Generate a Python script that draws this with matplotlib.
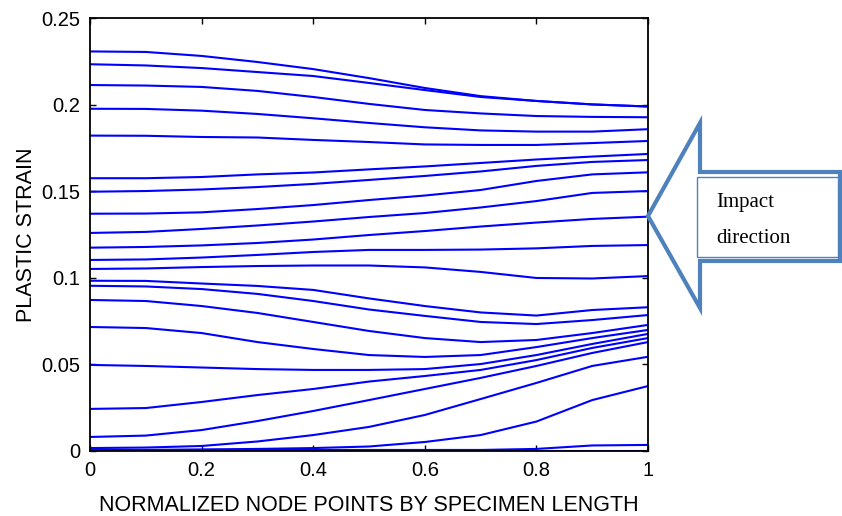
import matplotlib
matplotlib.use("Agg")
import matplotlib.pyplot as plt
from matplotlib.patches import Polygon, Rectangle

# node positions (normalized by specimen length)
x_nodes = [0.0, 0.1, 0.2, 0.3, 0.4, 0.5, 0.6, 0.7, 0.8, 0.9, 1.0]

# plastic strain curves, top to bottom (as they start at x = 0)
strain_01 = [0.2307, 0.2304, 0.2281, 0.2246, 0.2205, 0.2153, 0.2096, 0.2049, 0.2021, 0.2001, 0.1989]
strain_02 = [0.2233, 0.2226, 0.2211, 0.2188, 0.2165, 0.2125, 0.2084, 0.2044, 0.2021, 0.2001, 0.1989]
strain_03 = [0.2113, 0.2110, 0.2102, 0.2079, 0.2044, 0.2004, 0.1969, 0.1949, 0.1934, 0.1929, 0.1927]
strain_04 = [0.1976, 0.1975, 0.1965, 0.1946, 0.1921, 0.1894, 0.1869, 0.1851, 0.1844, 0.1844, 0.1858]
strain_05 = [0.1821, 0.1820, 0.1813, 0.1810, 0.1796, 0.1784, 0.1770, 0.1767, 0.1767, 0.1778, 0.1790]
strain_06 = [0.1575, 0.1575, 0.1582, 0.1597, 0.1608, 0.1626, 0.1643, 0.1663, 0.1683, 0.1700, 0.1715]
strain_07 = [0.1497, 0.1501, 0.1510, 0.1524, 0.1542, 0.1565, 0.1588, 0.1614, 0.1646, 0.1669, 0.1680]
strain_08 = [0.1370, 0.1371, 0.1378, 0.1397, 0.1420, 0.1449, 0.1475, 0.1507, 0.1559, 0.1597, 0.1609]
strain_09 = [0.1259, 0.1265, 0.1282, 0.1302, 0.1325, 0.1351, 0.1374, 0.1406, 0.1443, 0.1490, 0.1501]
strain_10 = [0.1174, 0.1178, 0.1187, 0.1201, 0.1221, 0.1247, 0.1270, 0.1296, 0.1319, 0.1340, 0.1353]
strain_11 = [0.1103, 0.1106, 0.1117, 0.1132, 0.1149, 0.1161, 0.1161, 0.1163, 0.1170, 0.1184, 0.1189]
strain_12 = [0.1051, 0.1054, 0.1062, 0.1068, 0.1071, 0.1071, 0.1060, 0.1034, 0.0999, 0.0996, 0.1010]
strain_13 = [0.0983, 0.0982, 0.0967, 0.0953, 0.0930, 0.0881, 0.0837, 0.0800, 0.0782, 0.0814, 0.0830]
strain_14 = [0.0954, 0.0950, 0.0935, 0.0907, 0.0866, 0.0817, 0.0780, 0.0745, 0.0733, 0.0756, 0.0785]
strain_15 = [0.0872, 0.0866, 0.0837, 0.0797, 0.0745, 0.0693, 0.0652, 0.0629, 0.0641, 0.0681, 0.0728]
strain_16 = [0.0716, 0.0710, 0.0681, 0.0629, 0.0589, 0.0554, 0.0543, 0.0554, 0.0600, 0.0652, 0.0699]
strain_17 = [0.0497, 0.0491, 0.0482, 0.0473, 0.0468, 0.0468, 0.0473, 0.0502, 0.0554, 0.0618, 0.0676]
strain_18 = [0.0243, 0.0248, 0.0283, 0.0323, 0.0358, 0.0401, 0.0433, 0.0468, 0.0525, 0.0595, 0.0652]
strain_19 = [0.0081, 0.0089, 0.0121, 0.0173, 0.0231, 0.0294, 0.0358, 0.0422, 0.0491, 0.0566, 0.0629]
strain_20 = [0.0017, 0.0020, 0.0029, 0.0055, 0.0092, 0.0139, 0.0208, 0.0300, 0.0393, 0.0491, 0.0544]
strain_21 = [0.0006, 0.0006, 0.0009, 0.0012, 0.0017, 0.0026, 0.0052, 0.0092, 0.0170, 0.0294, 0.0375]
strain_22 = [0.0006, 0.0006, 0.0006, 0.0006, 0.0006, 0.0006, 0.0006, 0.0006, 0.0012, 0.0032, 0.0035]
strain_23 = [0.0, 0.0, 0.0, 0.0, 0.0, 0.0, 0.0, 0.0, 0.0, 0.0, 0.0]

curves = [strain_01, strain_02, strain_03, strain_04, strain_05, strain_06,
          strain_07, strain_08, strain_09, strain_10, strain_11, strain_12,
          strain_13, strain_14, strain_15, strain_16, strain_17, strain_18,
          strain_19, strain_20, strain_21, strain_22, strain_23]

x_ticks = [0, 0.2, 0.4, 0.6, 0.8, 1]
x_ticklabels = ["0", "0.2", "0.4", "0.6", "0.8", "1"]
y_ticks = [0, 0.05, 0.1, 0.15, 0.2, 0.25]
y_ticklabels = ["0", "0.05", "0.1", "0.15", "0.2", "0.25"]

W, H = 842, 516
plt.rcParams['font.family'] = ['Liberation Sans', 'DejaVu Sans']

fig = plt.figure(figsize=(W / 100, H / 100), dpi=100)
ax = fig.add_axes([90 / W, 1 - 451 / H, (648 - 90) / W, (451 - 18) / H])

for c in curves:
    ax.plot(x_nodes, c, color='#0000ff', lw=1.5)

ax.set_xlim(0, 1)
ax.set_ylim(0, 0.25)
ax.set_xticks(x_ticks)
ax.set_xticklabels(x_ticklabels)
ax.set_yticks(y_ticks)
ax.set_yticklabels(y_ticklabels)
ax.tick_params(direction='in', length=4, width=1, top=True, right=True,
               labelsize=14.5, pad=7)
for s in ax.spines.values():
    s.set_linewidth(1.3)

ax.set_ylabel("PLASTIC STRAIN", fontsize=15.5, labelpad=3)
ax.set_xlabel("NORMALIZED NODE POINTS BY SPECIMEN LENGTH", fontsize=15.5, labelpad=11)


# impact arrow drawn in figure pixels
def px(x, y):
    return (x / W, 1 - y / H)


arrow_pts = [px(648, 216), px(700, 123), px(700, 172), px(840, 172),
             px(840, 261), px(700, 261), px(700, 308)]
fig.add_artist(Polygon(arrow_pts, closed=True, facecolor='white',
                       edgecolor='#4f81bd', lw=3.0, transform=fig.transFigure))
x0, y0 = px(697, 257)
x1, y1 = px(838, 177)
fig.add_artist(Rectangle((x0, y0), x1 - x0, y1 - y0, facecolor='white',
                         edgecolor='#4f81bd', lw=1.0, transform=fig.transFigure))
fig.text(*px(716, 203), "Impact", family='Liberation Serif', fontsize=15,
         va='center', ha='left')
fig.text(*px(716, 239), "direction", family='Liberation Serif', fontsize=15,
         va='center', ha='left')

fig.savefig("out.png", dpi=100)
